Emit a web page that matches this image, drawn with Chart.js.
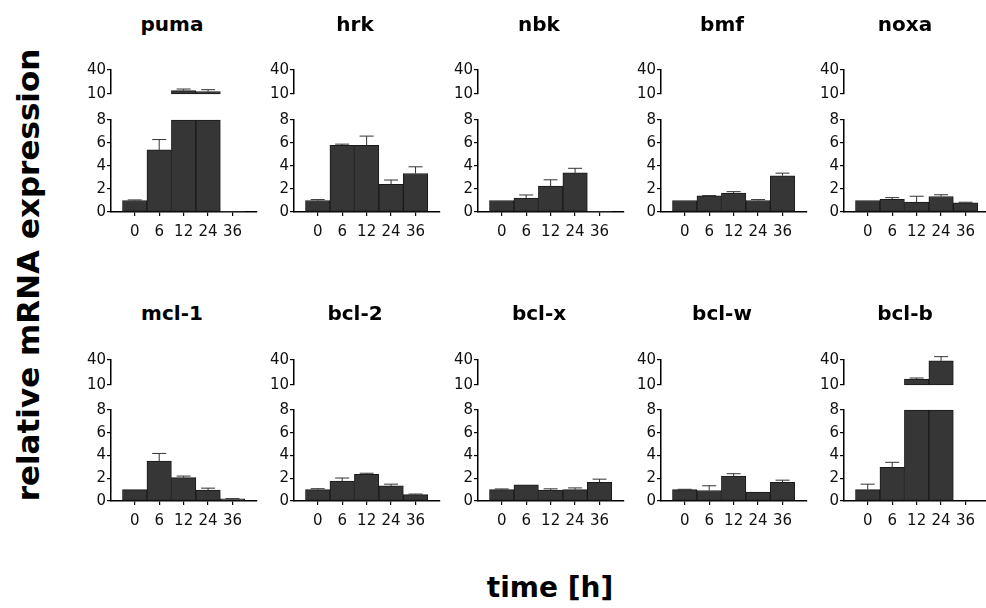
<!DOCTYPE html>
<html lang="en">
<head>
<meta charset="UTF-8">
<title>relative mRNA expression</title>
<script src="https://cdn.jsdelivr.net/npm/chart.js@4"></script>
<style>
  body { margin: 0; background: #fff; }
  #page { position: relative; width: 986px; height: 608px; overflow: hidden; }
  #page canvas { position: absolute; }
  .gene { position: absolute; width: 120px; text-align: center; font: bold 20px "DejaVu Sans"; line-height: 24px; color: #000; }
  #xtitle { position: absolute; left: 400px; width: 300px; top: 571px; text-align: center; font: bold 28px "DejaVu Sans"; line-height: 34px; }
  #ytitle { position: absolute; left: -222px; top: 257px; width: 500px; height: 36px; text-align: center; font: bold 31px "DejaVu Sans"; line-height: 36px; transform: rotate(-90deg); }
</style>
</head>
<body>
<div id="page">
  <div id="ytitle">relative mRNA expression</div>
  <div id="xtitle">time [h]</div>
</div>

<script>
// time points (h) and genes
const hours = ['0', '6', '12', '24', '36'];
const genes = ['puma', 'hrk', 'nbk', 'bmf', 'noxa', 'mcl-1', 'bcl-2', 'bcl-x', 'bcl-w', 'bcl-b'];

// mean expression + upper error per time point
const puma    = [1.0, 5.4, 14.2, 12.9, 0.05];
const pumaErr = [0.05, 0.9, 2.0, 2.5, 0];
const hrk     = [1.0, 5.8, 5.8, 2.4, 3.35];
const hrkErr  = [0.08, 0.1, 0.8, 0.38, 0.58];
const nbk     = [1.0, 1.2, 2.25, 3.4, 0.05];
const nbkErr  = [0, 0.28, 0.55, 0.4, 0];
const bmf     = [1.0, 1.4, 1.65, 1.0, 3.15];
const bmfErr  = [0, 0.03, 0.12, 0.08, 0.23];
const noxa    = [1.0, 1.1, 0.87, 1.35, 0.8];
const noxaErr = [0, 0.15, 0.5, 0.15, 0.05];
const mcl1    = [1.0, 3.5, 2.05, 0.95, 0.18];
const mcl1Err = [0, 0.68, 0.14, 0.18, 0.03];
const bcl2    = [1.0, 1.75, 2.35, 1.33, 0.56];
const bcl2Err = [0.08, 0.27, 0.09, 0.15, 0.05];
const bclx    = [1.0, 1.42, 0.95, 1.0, 1.65];
const bclxErr = [0.06, 0, 0.12, 0.15, 0.27];
const bclw    = [1.0, 0.92, 2.2, 0.78, 1.65];
const bclwErr = [0.03, 0.42, 0.2, 0, 0.18];
const bclb    = [1.0, 2.95, 17.2, 39, 0];
const bclbErr = [0.48, 0.45, 1.2, 5, 0];

// broken y axis: lower part and upper part
const lowTicks = [0, 2, 4, 6, 8];
const highTicks = [10, 40];

const series = [
  [puma, pumaErr], [hrk, hrkErr], [nbk, nbkErr], [bmf, bmfErr], [noxa, noxaErr],
  [mcl1, mcl1Err], [bcl2, bcl2Err], [bclx, bclxErr], [bclw, bclwErr], [bclb, bclbErr]
];

// layout (page pixels)
const colX = [111, 294, 478, 661, 844];
const rows = [
  { title: 31,  hiTop: 70,  hiBot: 94,  loTop: 120, loBot: 212 },
  { title: 320, hiTop: 360, hiBot: 385, loTop: 410, loBot: 501 }
];
const axisW = 40, plotW = 146, padR = 6, xAxisH = 34;
const tickFont = { family: 'DejaVu Sans', size: 15 };

// error bars (upper half only), drawn with the chart's own y scale
const errorBars = {
  id: 'errorBars',
  afterDatasetsDraw(chart) {
    const ds = chart.data.datasets[0];
    const meta = chart.getDatasetMeta(0);
    const y = chart.scales.y;
    const ctx = chart.ctx;
    ctx.save();
    ctx.strokeStyle = '#333';
    ctx.lineWidth = 1;
    ds.raw.forEach((v, i) => {
      const e = ds.err[i];
      const bar = meta.data[i];
      const inPart = ds.part === 'low' ? v <= 8 : v > 10;
      if (!e || !bar || !inPart) return;
      const yv = y.getPixelForValue(v);
      const ye = y.getPixelForValue(v + e);
      ctx.beginPath();
      ctx.moveTo(bar.x, yv);
      ctx.lineTo(bar.x, ye);
      ctx.moveTo(bar.x - 7, ye);
      ctx.lineTo(bar.x + 7, ye);
      ctx.stroke();
    });
    ctx.restore();
  }
};

const page = document.getElementById('page');

function makeChart(left, top, width, height, part, vals, errs) {
  const cv = document.createElement('canvas');
  cv.width = width;
  cv.height = height;
  cv.style.left = left + 'px';
  cv.style.top = top + 'px';
  page.appendChild(cv);

  const isLow = part === 'low';
  const data = vals.map((v, i) => isLow
    ? { x: i, y: Math.min(v, 8) }
    : { x: i, y: v > 10 ? [10, v] : null });

  new Chart(cv, {
    type: 'bar',
    data: {
      datasets: [{
        data: data,
        raw: vals,
        err: errs,
        part: part,
        backgroundColor: '#363636',
        borderColor: '#1a1a1a',
        borderWidth: 1,
        borderSkipped: false,
        barPercentage: 1,
        categoryPercentage: 1,
        clip: false
      }]
    },
    options: {
      responsive: false,
      animation: false,
      layout: { padding: { top: 10, right: padR, bottom: isLow ? 0 : 10, left: 0 } },
      plugins: { legend: { display: false }, tooltip: { enabled: false } },
      scales: {
        x: {
          type: 'linear',
          min: -0.97,
          max: 5.0,
          offset: false,
          display: isLow,
          afterBuildTicks: s => { s.ticks = hours.map((h, i) => ({ value: i })); },
          afterFit: s => { if (isLow) s.height = xAxisH; },
          grid: { offset: false, drawOnChartArea: false, drawTicks: true, tickLength: 4, color: '#000', lineWidth: 1.2 },
          border: { display: true, color: '#000', width: 1.5 },
          ticks: {
            callback: (val, idx) => hours[idx],
            font: tickFont, color: '#111', padding: 7, maxRotation: 0, autoSkip: false
          }
        },
        y: {
          min: isLow ? 0 : 10,
          max: isLow ? 8 : 40,
          afterBuildTicks: s => { s.ticks = (isLow ? lowTicks : highTicks).map(v => ({ value: v })); },
          afterFit: s => { s.width = axisW; },
          grid: { drawOnChartArea: false, drawTicks: true, tickLength: 4, color: '#000', lineWidth: 1.2 },
          border: { display: true, color: '#000', width: 1.5 },
          ticks: { font: tickFont, color: '#111', padding: 1 }
        }
      }
    },
    plugins: [errorBars]
  });
}

genes.forEach((g, k) => {
  const row = rows[Math.floor(k / 5)];
  const ax = colX[k % 5];
  const [vals, errs] = series[k];
  const w = axisW + plotW + padR;

  // upper (10-40) segment
  makeChart(ax - axisW, row.hiTop - 10, w, (row.hiBot - row.hiTop) + 20, 'high', vals, errs);
  // lower (0-8) segment with time axis
  makeChart(ax - axisW, row.loTop - 10, w, (row.loBot - row.loTop) + 10 + xAxisH, 'low', vals, errs);

  const t = document.createElement('div');
  t.className = 'gene';
  t.textContent = g;
  t.style.left = (ax + 61 - 60) + 'px';
  t.style.top = (row.title - 19) + 'px';
  page.appendChild(t);
});
</script>
</body>
</html>
